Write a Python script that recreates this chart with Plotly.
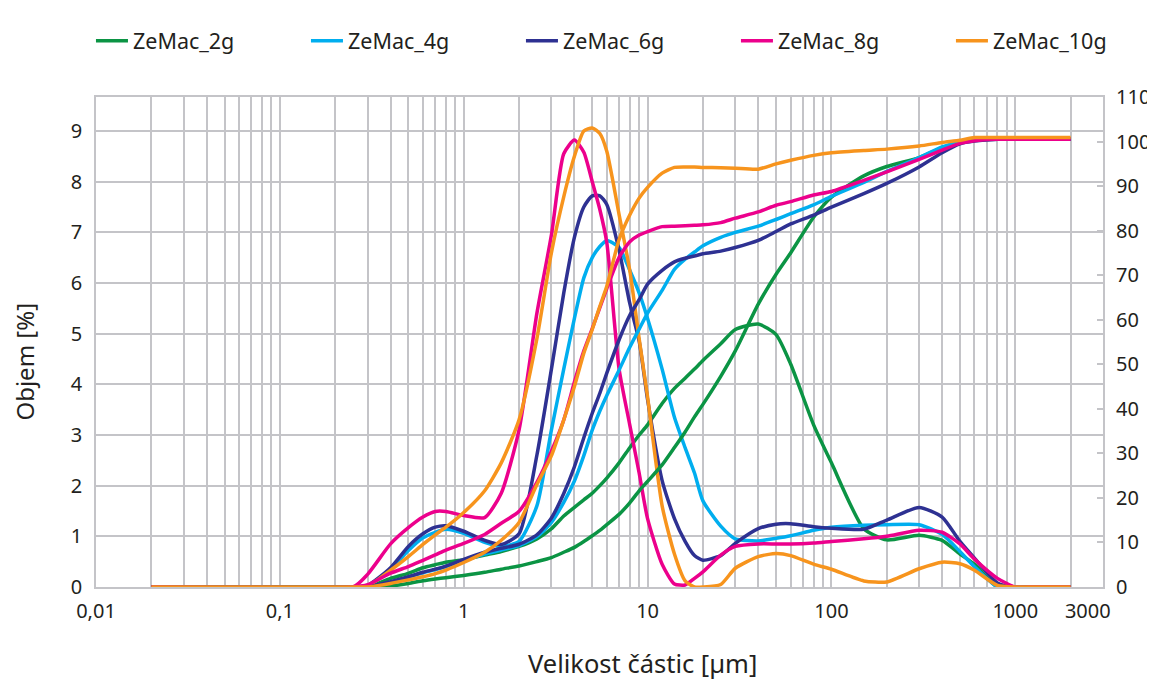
import plotly.graph_objects as go

# particle size grid (µm)
size_um = [0.02, 0.25, 0.3, 0.4, 0.5, 0.6, 0.7, 0.8, 1, 1.3, 1.6, 2, 2.5, 3, 3.5, 4, 4.5, 5, 5.5, 6,
           7, 8, 9, 10, 12, 14, 16, 18, 20, 25, 30, 40, 50, 60, 80, 100, 150, 200, 300, 400,
           500, 600, 800, 1000, 1200, 2000]

# frequency curves, volume % (left axis)
freq_2g = [0, 0, 0, 0.17, 0.27, 0.38, 0.44, 0.49, 0.54, 0.63, 0.7, 0.8, 0.95, 1.15, 1.4, 1.57, 1.72, 1.85, 2.0, 2.15,
           2.45, 2.75, 3.0, 3.2, 3.62, 3.92, 4.12, 4.3, 4.47, 4.8, 5.08, 5.19, 4.98, 4.4, 3.2, 2.45, 1.15, 0.93, 1.02, 0.92,
           0.65, 0.45, 0, 0, 0, 0]
freq_4g = [0, 0, 0.02, 0.35, 0.72, 0.97, 1.08, 1.14, 1.06, 0.88, 0.8, 0.9, 1.6, 3.1, 4.3, 5.3, 6.1, 6.5, 6.72, 6.84,
           6.7, 6.25, 5.8, 5.3, 4.3, 3.35, 2.75, 2.25, 1.7, 1.2, 0.95, 0.91, 0.96, 1.01, 1.12, 1.18, 1.22, 1.23, 1.23, 1.04,
           0.7, 0.4, 0, 0, 0, 0]
freq_6g = [0, 0, 0.03, 0.38, 0.8, 1.05, 1.18, 1.21, 1.1, 0.92, 0.84, 1.05, 2.6, 4.3, 5.8, 6.9, 7.5, 7.72, 7.72, 7.55,
           6.65, 5.6, 4.85, 3.7, 2.1, 1.35, 0.9, 0.62, 0.53, 0.62, 0.86, 1.15, 1.24, 1.25, 1.19, 1.16, 1.14, 1.32, 1.57, 1.38,
           0.9, 0.57, 0.08, 0, 0, 0]
freq_8g = [0, 0, 0.25, 0.85, 1.17, 1.38, 1.49, 1.49, 1.41, 1.37, 1.85, 3.1, 5.4, 6.95, 8.55, 8.82, 8.58, 8.0, 7.45, 6.8,
           4.3, 3.2, 2.25, 1.35, 0.45, 0.06, 0.04, 0.17, 0.3, 0.63, 0.8, 0.85, 0.85, 0.85, 0.87, 0.9, 0.95, 1.0, 1.12, 1.08,
           0.85, 0.55, 0.17, 0, 0, 0]
freq_10g = [0, 0, 0.02, 0.33, 0.6, 0.84, 1.03, 1.18, 1.47, 1.9, 2.45, 3.3, 4.9, 6.6, 7.7, 8.5, 9.0, 9.06, 8.95, 8.6,
            7.35, 6.25, 4.9, 3.75, 1.6, 0.65, 0.12, 0, 0, 0.05, 0.37, 0.6, 0.66, 0.62, 0.45, 0.35, 0.12, 0.1, 0.36, 0.49,
            0.46, 0.33, 0.03, 0, 0, 0]

# cumulative curves, volume % (right axis)
cum_2g = [0, 0, 0, 0.2, 0.8, 1.4, 1.8, 2.1, 2.6, 3.3, 4.0, 4.7, 5.7, 6.6, 7.8, 8.9, 10.2, 11.5, 12.7, 14,
          16.3, 18.9, 21.6, 23.7, 27.4, 31.3, 34.8, 38.2, 41, 47.3, 53, 63.5, 70.2, 75, 83, 87.5, 92.3, 94.4, 96.4, 98.6,
          99.8, 100.3, 100.5, 100.5, 100.5, 100.5]
cum_4g = [0, 0, 0, 1.1, 2.2, 3.2, 3.9, 4.6, 5.9, 7.4, 8.3, 9.3, 11.3, 14.5, 19, 23.8, 29.5, 35.2, 39.5, 43,
          48.7, 53.8, 57.9, 61.5, 66.6, 71.3, 73.6, 75.2, 76.6, 78.5, 79.6, 81, 82.5, 83.8, 85.8, 87.7, 90.8, 93.3, 96.4, 98.8,
          99.9, 100.3, 100.5, 100.5, 100.5, 100.5]
cum_6g = [0, 0, 0, 1.2, 2.3, 3.3, 4.0, 4.7, 6.2, 7.8, 8.7, 9.6, 11.7, 15.5, 21, 27, 33.5, 39, 43.5, 48,
          55.5, 61, 64.5, 68, 71.1, 73, 73.8, 74.3, 74.8, 75.4, 76.2, 77.8, 79.8, 81.5, 83.5, 85.3, 88.3, 90.6, 94.3, 97.5,
          99.5, 100.1, 100.5, 100.5, 100.5, 100.5]
cum_8g = [0, 0, 0.5, 3.1, 4.6, 6.0, 7.2, 8.3, 9.8, 11.8, 14.3, 17, 23.5, 30.5, 37.5, 46, 53, 58, 62.7, 67,
          74, 77.5, 79, 79.8, 80.9, 81, 81.1, 81.2, 81.3, 81.8, 82.8, 84.2, 85.7, 86.5, 88, 88.8, 91.3, 93.2, 96, 98.1,
          99.6, 100.2, 100.5, 100.5, 100.5, 100.5]
cum_10g = [0, 0, 0, 0.8, 1.6, 2.3, 3.0, 3.8, 5.5, 7.8, 10.5, 14.5, 23, 29.5, 37.5, 45, 52.5, 57.8, 63, 67.5,
           78, 83.5, 87.3, 89.7, 92.9, 94.2, 94.3, 94.3, 94.2, 94.1, 94, 93.8, 95, 95.8, 96.9, 97.5, 98, 98.3, 99, 99.8,
           100.3, 100.9, 100.9, 100.9, 100.9, 100.9]

series_names = ["ZeMac_2g", "ZeMac_4g", "ZeMac_6g", "ZeMac_8g", "ZeMac_10g"]
series_colors = ["#0b9444", "#00aeef", "#2e3192", "#ec008c", "#f7941d"]
freq_all = [freq_2g, freq_4g, freq_6g, freq_8g, freq_10g]
cum_all = [cum_2g, cum_4g, cum_6g, cum_8g, cum_10g]

# x tick labels (the last label sits just left of the 3000 edge, as in the original)
x_label_pos = [0.01, 0.1, 1, 10, 100, 1000, 2480]
x_tick_text = ["0,01", "0,1", "1", "10", "100", "1000", "3000"]
# vertical grid lines: every 1..9 x 10^k plus the 2000 line
x_grid_vals = [m * 10 ** e for e in range(-2, 3) for m in range(1, 10)] + [1000, 2000]

FONT = "Noto Sans"
TXT = "#231f20"
GRID = "#c4c4c8"

legend_ids = ["legend", "legend2", "legend3", "legend4", "legend5"]
legend_x = [-0.005, 0.2085, 0.422, 0.6355, 0.849]

fig = go.Figure()
for name, col, f, lid in zip(series_names, series_colors, freq_all, legend_ids):
    fig.add_trace(go.Scatter(x=size_um, y=f, mode="lines", name=name, legend=lid,
                             line=dict(color=col, width=3.5, shape="spline", smoothing=0.6), yaxis="y"))
for name, col, c in zip(series_names, series_colors, cum_all):
    fig.add_trace(go.Scatter(x=size_um, y=c, mode="lines", name=name + " (kumulativní)",
                             showlegend=False, line=dict(color=col, width=3.5, shape="spline", smoothing=0.6),
                             yaxis="y2"))

legend_layout = {}
for lid, lx in zip(legend_ids, legend_x):
    legend_layout[lid] = dict(orientation="h", x=lx, xanchor="left", y=1.115, yanchor="middle",
                              font=dict(size=21.5, family=FONT, color=TXT), itemwidth=32,
                              bgcolor="rgba(0,0,0,0)")

fig.update_layout(
    width=1147, height=676,
    margin=dict(l=88, r=52, t=75, b=97),
    paper_bgcolor="white", plot_bgcolor="white",
    font=dict(family=FONT, color=TXT, size=20),
    showlegend=True,
    **legend_layout,
    xaxis=dict(type="log", range=[-2, 3.4771], tickvals=x_label_pos, ticktext=x_tick_text,
               showgrid=False,
               minor=dict(tickvals=x_grid_vals, showgrid=True, gridcolor=GRID, gridwidth=1.6, ticks=""),
               showline=True, linecolor=GRID, linewidth=1.6, mirror=True,
               ticks="", ticklabelstandoff=5, zeroline=False, automargin=False),
    yaxis=dict(range=[0, 9.67], tickvals=list(range(10)), showgrid=True, gridcolor=GRID, gridwidth=1.6,
               showline=True, linecolor=GRID, linewidth=1.6, mirror=True, zeroline=False,
               ticks="", ticklabelstandoff=8, automargin=False),
    yaxis2=dict(range=[0, 110], dtick=10, overlaying="y", side="right", showgrid=False, zeroline=False,
                ticks="inside", ticklen=6, tickcolor=GRID, tickwidth=1.6, ticklabelstandoff=12,
                showline=False, automargin=False),
    annotations=[
        dict(text="Velikost částic [µm]", xref="paper", yref="paper", x=0.543, y=-0.155,
             xanchor="center", yanchor="middle", showarrow=False,
             font=dict(size=25.5, family=FONT, color=TXT)),
        dict(text="Objem [%]", xref="paper", yref="paper", x=-0.0705, y=0.46,
             xanchor="center", yanchor="middle", showarrow=False, textangle=-90,
             font=dict(size=24, family=FONT, color=TXT)),
    ],
)

fig.write_html("out.html")
